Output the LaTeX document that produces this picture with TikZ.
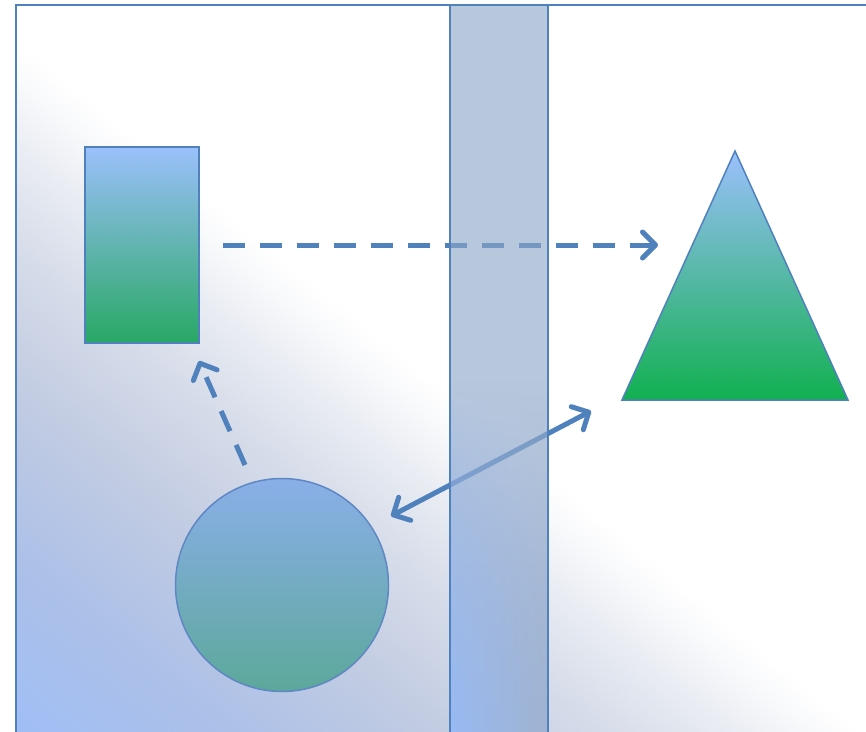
\documentclass[tikz,border=0pt]{standalone}
\usetikzlibrary{arrows.meta,fadings}
\definecolor{lnblue}{RGB}{79,129,189}
\definecolor{bgA}{RGB}{160,190,245}
\definecolor{bgB}{RGB}{172,192,232}
\definecolor{bgC}{RGB}{194,204,226}
\definecolor{bgD}{RGB}{214,220,233}
\definecolor{bgE}{RGB}{234,237,243}
\definecolor{bgF}{RGB}{248,249,251}
\definecolor{rectTop}{RGB}{155,192,252}
\definecolor{rectMid}{RGB}{112,178,190}
\definecolor{rectBot}{RGB}{40,168,100}
\definecolor{triTopC}{RGB}{155,192,252}
\definecolor{triMid}{RGB}{112,184,195}
\definecolor{triBot}{RGB}{17,176,80}
\definecolor{circTop}{RGB}{138,175,232}
\definecolor{circMid}{RGB}{118,170,198}
\definecolor{circBot}{RGB}{92,168,155}
\definecolor{circLine}{RGB}{95,135,195}
\definecolor{barFill}{RGB}{140,165,200}
\definecolor{barL}{RGB}{152,186,245}
\definecolor{barR}{RGB}{160,179,208}
\pgfdeclareverticalshading{bgshade}{100bp}{color(0bp)=(bgA); color(25bp)=(bgA); color(37.5bp)=(bgB); color(50bp)=(bgC); color(60bp)=(bgD); color(67.5bp)=(bgE); color(72bp)=(bgF); color(75bp)=(white); color(100bp)=(white)}
\tikzfading[name=fadeup, top color=transparent!100, bottom color=transparent!0]
\tikzset{
  arr/.style={lnblue, line width=5pt, -{Straight Barb[length=13pt,width=26pt,round]}},
  dsh/.style={arr, dash pattern=on 22pt off 15pt},
  dbl/.style={lnblue, line width=5pt, {Straight Barb[length=13pt,width=26pt,round]}-{Straight Barb[length=13pt,width=26pt,round]}},
  rectnode/.style={rectangle, draw=lnblue, line width=2pt, inner sep=0pt, minimum width=114pt, minimum height=196pt, top color=rectTop, middle color=rectMid, bottom color=rectBot},
  circnode/.style={circle, draw=circLine, line width=1.5pt, inner sep=0pt, minimum size=213pt, top color=circTop, middle color=circMid, bottom color=circBot},
  border/.style={lnblue, line width=2pt}
}
\begin{document}
\begin{tikzpicture}[x=1pt,y=-1pt]
\useasboundingbox (0,0) rectangle (866,731);
\clip (0,0) rectangle (866,731);
\fill[white] (0,0) rectangle (866,731);
% background frame with diagonal gradient
\begin{scope}
  \clip (16,5) rectangle (900,760);
  \fill[white] (16,5) rectangle (900,760);
  \begin{scope}[transform canvas={rotate around={-39.3:(16,731)}}]
    \shade[shading=bgshade] (-1500,731) rectangle (1600,196);
  \end{scope}
\end{scope}
% shapes
\node[rectnode] (rect) at (142,245) {};
\node[circnode] (circ) at (282,585) {};
\coordinate (triApex) at (735,151);
\coordinate (triL) at (622,400);
\coordinate (triR) at (848,400);
\draw[lnblue, line width=1.5pt, line join=miter, top color=triTopC, middle color=triMid, bottom color=triBot] (triApex) -- (triR) -- (triL) -- cycle;
% connectors
\coordinate (hEnd) at (658,245);
\coordinate (uStart) at (245,465);
\coordinate (uEnd) at (199,361);
\coordinate (dA) at (391,516);
\coordinate (dB) at (591,411);
\draw[dsh, shorten <=23pt] (rect.east) -- (hEnd);
\draw[dsh] (uStart) -- (uEnd);
\draw[dbl] (dA) -- (dB);
% translucent bar
\fill[barFill, fill opacity=0.62] (450,5) rectangle (548,745);
\shade[left color=barL, right color=barR, path fading=fadeup] (450,380) rectangle (548,745);
\draw[border] (450,5) rectangle (548,745);
% frame border
\draw[border] (16,5) rectangle (900,760);
\end{tikzpicture}
\end{document}
